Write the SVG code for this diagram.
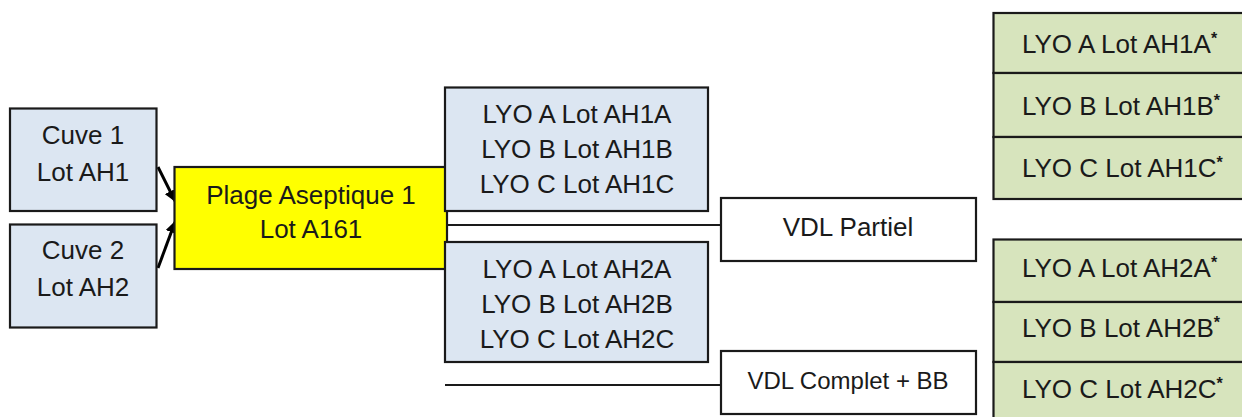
<svg xmlns="http://www.w3.org/2000/svg" width="1242" height="417" viewBox="0 0 1242 417">
<defs>
<style>
.box{stroke:#1a1a1a;stroke-width:2.2}
.blue{fill:#dce6f2}
.yellow{fill:#ffff00}
.green{fill:#d7e4bd}
.white{fill:#ffffff}
text{font-family:"Liberation Sans",Arial,sans-serif;font-size:26px;fill:#1a1a1a}
.c{text-anchor:middle}
.g{text-anchor:start}
.ast{font-size:16px;font-weight:bold}
.conn{stroke:#1a1a1a;stroke-width:2.2;fill:none}
.arr{stroke:#000;stroke-width:3;fill:none}
</style>
<marker id="ah" viewBox="0 0 10 10" refX="9" refY="5" markerWidth="4" markerHeight="4" orient="auto" markerUnits="strokeWidth">
<path d="M0,0 L10,5 L0,10 z" fill="#000"/>
</marker>
</defs>
<rect width="1242" height="417" fill="#ffffff"/>
<g id="connectors">
<line class="arr" x1="158" y1="167" x2="175" y2="201" marker-end="url(#ah)"/>
<line class="arr" x1="158" y1="268" x2="175" y2="222" marker-end="url(#ah)"/>
<line class="conn" x1="447" y1="225" x2="721" y2="225"/>
<line class="conn" x1="445" y1="385" x2="721" y2="385"/>
</g>
<g id="cuve1">
<rect class="box blue" x="10" y="108.5" width="146.5" height="102.5"/>
<text class="c" x="83" y="144">Cuve 1</text>
<text class="c" x="83" y="181">Lot AH1</text>
</g>
<g id="cuve2">
<rect class="box blue" x="10" y="224.5" width="146.5" height="103"/>
<text class="c" x="83" y="259">Cuve 2</text>
<text class="c" x="83" y="296">Lot AH2</text>
</g>
<g id="plage">
<rect class="box yellow" x="174.5" y="167" width="272.5" height="102"/>
<text class="c" x="311" y="204">Plage Aseptique 1</text>
<text class="c" x="311" y="238">Lot A161</text>
</g>
<g id="lyo1">
<rect class="box blue" x="445" y="87.5" width="263" height="123.5"/>
<text class="c" x="577" y="123">LYO A Lot AH1A</text>
<text class="c" x="577" y="158">LYO B Lot AH1B</text>
<text class="c" x="577" y="193">LYO C Lot AH1C</text>
</g>
<g id="lyo2">
<rect class="box blue" x="445" y="242" width="263" height="120"/>
<text class="c" x="577" y="278">LYO A Lot AH2A</text>
<text class="c" x="577" y="313">LYO B Lot AH2B</text>
<text class="c" x="577" y="348">LYO C Lot AH2C</text>
</g>
<g id="vdl-partiel">
<rect class="box white" x="721" y="198" width="255" height="63"/>
<text class="c" x="848" y="236">VDL Partiel</text>
</g>
<g id="vdl-complet">
<rect class="box white" x="721" y="351" width="255" height="63"/>
<text class="c" x="848" y="389" style="font-size:24px">VDL Complet + BB</text>
</g>
<g id="g-ah1a">
<rect class="box green" x="993.5" y="13" width="260" height="60"/>
<text class="g" x="1022" y="53">LYO A Lot AH1A<tspan class="ast" dy="-9">*</tspan></text>
</g>
<g id="g-ah1b">
<rect class="box green" x="993.5" y="73" width="260" height="64"/>
<text class="g" x="1022" y="115">LYO B Lot AH1B<tspan class="ast" dy="-9">*</tspan></text>
</g>
<g id="g-ah1c">
<rect class="box green" x="993.5" y="137" width="260" height="62"/>
<text class="g" x="1022" y="177">LYO C Lot AH1C<tspan class="ast" dy="-9">*</tspan></text>
</g>
<g id="g-ah2a">
<rect class="box green" x="993.5" y="239.5" width="260" height="62.5"/>
<text class="g" x="1022" y="277">LYO A Lot AH2A<tspan class="ast" dy="-9">*</tspan></text>
</g>
<g id="g-ah2b">
<rect class="box green" x="993.5" y="302" width="260" height="60"/>
<text class="g" x="1022" y="337">LYO B Lot AH2B<tspan class="ast" dy="-9">*</tspan></text>
</g>
<g id="g-ah2c">
<rect class="box green" x="993.5" y="362" width="260" height="70"/>
<text class="g" x="1022" y="398">LYO C Lot AH2C<tspan class="ast" dy="-9">*</tspan></text>
</g>
</svg>
